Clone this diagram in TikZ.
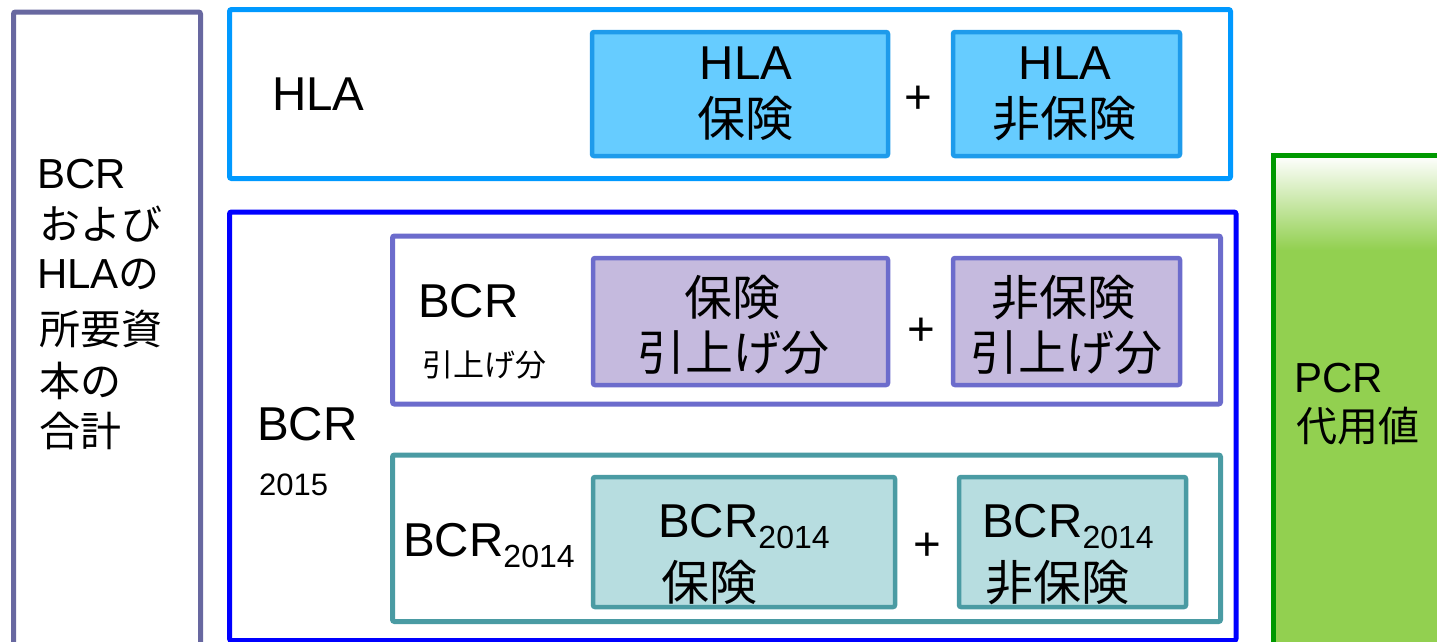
\documentclass[tikz,border=0pt]{standalone}
\usepackage{fontspec}
\setmainfont{Liberation Sans}
\newfontfamily\jp{Noto Sans CJK JP}
\newcommand\fs[1]{\fontsize{#1}{#1}\selectfont}
\definecolor{cLeft}{RGB}{104,104,160}
\definecolor{cHLA}{RGB}{0,153,255}
\definecolor{cHLAin}{RGB}{30,155,235}
\definecolor{fHLA}{RGB}{102,204,255}
\definecolor{cBlue}{RGB}{0,0,255}
\definecolor{cPur}{RGB}{108,108,204}
\definecolor{fPur}{RGB}{197,186,222}
\definecolor{cTeal}{RGB}{74,155,163}
\definecolor{fTeal}{RGB}{183,221,224}
\definecolor{cPCR}{RGB}{0,153,0}
\definecolor{fPCR}{RGB}{146,208,80}
\tikzset{
  frame/.style={line width=5pt, rounded corners=2pt},
  inbox/.style={line width=4.5pt, rounded corners=2pt},
  txt/.style={inner sep=0pt, anchor=base west, text=black},
  ctxt/.style={inner sep=0pt, anchor=base, text=black},
}
\begin{document}
\begin{tikzpicture}[x=1pt,y=-1pt]
\useasboundingbox (0,0) rectangle (1437,641);
\clip (0,0) rectangle (1437,641);
% left box
\draw[frame, draw=cLeft] (13.5,12) rectangle (200.5,720);
\node[txt] (l1) at (37,188) {\fs{42}BCR};
\node[txt] (l2) at (39,239) {\fs{41}\jp および};
\node[txt] (l3) at (37,288) {\fs{42}HLA{\jp\fs{41}の}};
\node[txt] (l4) at (39,344) {\fs{41}\jp 所要資};
\node[txt] (l5) at (39,396) {\fs{41}\jp 本の};
\node[txt] (l6) at (39,446) {\fs{41}\jp 合計};
% HLA row
\draw[frame, draw=cHLA] (229.5,9.5) rectangle (1230.5,178.5);
\node[txt] (hlalab) at (272,110) {\fs{47.5}HLA};
\draw[inbox, draw=cHLAin, fill=fHLA] (592,32) rectangle (888,156);
\draw[inbox, draw=cHLAin, fill=fHLA] (953,32) rectangle (1180,156);
\node[ctxt] (h1a) at (746,79) {\fs{47.5}HLA};
\node[ctxt] (h1b) at (745,136) {\fs{48}\jp 保険};
\node[ctxt] (plus1) at (918,113.5) {\fs{47.5}+};
\node[ctxt] (h2a) at (1065,79) {\fs{47.5}HLA};
\node[ctxt] (h2b) at (1064,136) {\fs{48}\jp 非保険};
% BCR 2015
\draw[frame, draw=cBlue] (229.5,212) rectangle (1236,640.5);
\node[txt] (bcrlab) at (257,440) {\fs{47.5}BCR};
\node[txt] (bcryr) at (259,495) {\fs{31}2015};
% BCR increase
\draw[frame, draw=cPur] (392.5,236) rectangle (1220.5,404);
\node[txt] (inclab) at (418,317) {\fs{47.5}BCR};
\node[txt] (incsub) at (422,376) {\fs{31}\jp 引上げ分};
\draw[inbox, draw=cPur, fill=fPur] (593,258) rectangle (888,385);
\draw[inbox, draw=cPur, fill=fPur] (953,258) rectangle (1180,385);
\node[ctxt] (i1a) at (732,315.5) {\fs{48}\jp 保険};
\node[ctxt] (i1b) at (733,370.5) {\fs{48}\jp 引上げ分};
\node[ctxt] (plus2) at (921,345.5) {\fs{47.5}+};
\node[ctxt] (i2a) at (1063,315.5) {\fs{48}\jp 非保険};
\node[ctxt] (i2b) at (1066,370.5) {\fs{48}\jp 引上げ分};
% BCR 2014
\draw[frame, draw=cTeal] (392.5,455) rectangle (1220.5,621.5);
\node[txt] (b14lab) at (403,556) {\fs{47.5}BCR\raisebox{-11pt}{\fs{32}2014}};
\draw[inbox, draw=cTeal, fill=fTeal] (593,477) rectangle (895,607);
\draw[inbox, draw=cTeal, fill=fTeal] (959,477) rectangle (1186,607);
\node[txt] (b1a) at (658,537) {\fs{47.5}BCR\raisebox{-11pt}{\fs{32}2014}};
\node[txt] (b1b) at (661,600) {\fs{48}\jp 保険};
\node[ctxt] (plus3) at (927,560.5) {\fs{47.5}+};
\node[txt] (b2a) at (982,537) {\fs{47.5}BCR\raisebox{-11pt}{\fs{32}2014}};
\node[txt] (b2b) at (985,600) {\fs{48}\jp 非保険};
% PCR
\fill[fPCR] (1273.5,155.5) rectangle (1500,720);
\shade[top color=white, bottom color=fPCR] (1273.5,155.5) rectangle (1500,250);
\draw[frame, draw=cPCR, rounded corners=0pt] (1273.5,155.5) rectangle (1500,720);
\node[txt] (pcra) at (1294,392) {\fs{42}PCR};
\node[txt] (pcrb) at (1296,441) {\fs{41}\jp 代用値};
\end{tikzpicture}
\end{document}
